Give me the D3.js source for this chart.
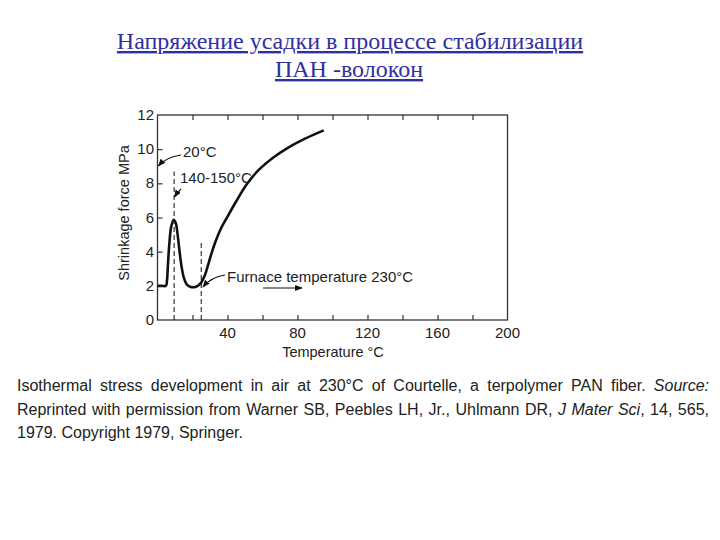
<!DOCTYPE html>
<html>
<head>
<meta charset="utf-8">
<script src="https://cdn.jsdelivr.net/npm/d3@7"></script>
<style>
  body { margin: 0; background: #fff; }
  #wrap { position: relative; width: 720px; height: 540px; }
  #caption {
    position: absolute; left: 17px; top: 374px; width: 692px;
    font-family: "Liberation Sans", Arial, sans-serif; font-size: 16px;
    line-height: 23.5px; color: #222; text-align: justify; text-align-last: left;
  }
</style>
</head>
<body>
<div id="wrap">
  <svg id="chart" width="720" height="540"></svg>
  <div id="caption">Isothermal stress development in air at 230&deg;C of Courtelle, a terpolymer PAN fiber. <i>Source:</i> Reprinted with permission from Warner SB, Peebles LH, Jr., Uhlmann DR, <i>J Mater Sci</i>, 14, 565, 1979. Copyright 1979, Springer.</div>
</div>
<script>
// curve: temperature (°C), shrinkage force (MPa)
var temps =  [0, 2.5, 4.8, 5.4, 6.0, 6.8, 7.8, 9.3, 10.5, 11.5, 12.5, 13.5, 15, 17, 19, 21, 23, 25, 27, 29, 31, 33, 36, 40, 45, 51, 58, 66, 74, 84, 95];
var forces = [2, 2, 2, 2.3, 3.3, 4.5, 5.45, 5.87, 5.65, 5.0, 4.1, 3.3, 2.5, 2.05, 1.93, 1.92, 2.0, 2.2, 2.6, 3.25, 3.95, 4.55, 5.3, 6.05, 6.95, 7.95, 8.8, 9.5, 10.05, 10.6, 11.1];
var xTicks = [40, 80, 120, 160, 200];
var yTicks = [0, 2, 4, 6, 8, 10, 12];
var dashX = [9.5, 25];
var dashTop = [8.7, 4.6];

var svg = d3.select("#chart");
var x = d3.scaleLinear().domain([0, 200]).range([157.5, 507.5]);
var y = d3.scaleLinear().domain([0, 12]).range([320, 115]);
var font = "'Liberation Sans', Arial, sans-serif";

// title
var title = svg.append("g")
    .attr("font-family", "'Liberation Serif', 'Times New Roman', serif")
    .attr("font-size", 24)
    .attr("fill", "#30309f")
    .attr("text-anchor", "middle")
    .attr("text-decoration", "underline");
title.append("text").attr("x", 350).attr("y", 49).text("Напряжение усадки в процессе стабилизации");
title.append("text").attr("x", 349).attr("y", 77).text("ПАН -волокон");

// frame
svg.append("rect")
    .attr("x", x(0)).attr("y", y(12))
    .attr("width", x(200) - x(0)).attr("height", y(0) - y(12))
    .attr("fill", "none").attr("stroke", "#333").attr("stroke-width", 1.3);

// axes with inward ticks
var xAxis = svg.append("g").attr("transform", "translate(0," + y(0) + ")")
    .call(d3.axisBottom(x).tickValues(d3.range(20, 200, 20)).tickSizeInner(-5).tickSizeOuter(0).tickFormat(""));
var xTop = svg.append("g").attr("transform", "translate(0," + y(12) + ")")
    .call(d3.axisTop(x).tickValues(d3.range(20, 200, 20)).tickSizeInner(-5).tickSizeOuter(0).tickFormat(""));
var yAxis = svg.append("g").attr("transform", "translate(" + x(0) + ",0)")
    .call(d3.axisLeft(y).tickValues(yTicks.slice(1, -1)).tickSizeInner(-5).tickSizeOuter(0).tickFormat(""));
[xAxis, xTop, yAxis].forEach(function(g) {
    g.select(".domain").remove();
    g.selectAll("line").attr("stroke", "#333").attr("stroke-width", 1.2);
});

svg.append("g").selectAll("text").data(xTicks).enter().append("text")
    .attr("x", function(d) { return x(d); }).attr("y", 338)
    .attr("text-anchor", "middle").attr("font-family", font).attr("font-size", 15).attr("fill", "#222")
    .text(function(d) { return d; });
svg.append("g").selectAll("text").data(yTicks).enter().append("text")
    .attr("x", 154).attr("y", function(d) { return y(d) + 5; })
    .attr("text-anchor", "end").attr("font-family", font).attr("font-size", 15).attr("fill", "#222")
    .text(function(d) { return d; });

svg.append("text").attr("x", 333).attr("y", 357).attr("text-anchor", "middle")
    .attr("font-family", font).attr("font-size", 14.5).attr("fill", "#222").text("Temperature °C");
svg.append("text").attr("transform", "translate(129,213) rotate(-90)").attr("text-anchor", "middle")
    .attr("font-family", font).attr("font-size", 14.5).attr("fill", "#222").text("Shrinkage force MPa");

// dashed guide lines
svg.append("g").selectAll("line").data(dashX).enter().append("line")
    .attr("x1", function(d) { return x(d); }).attr("x2", function(d) { return x(d); })
    .attr("y1", y(0)).attr("y2", function(d, i) { return y(dashTop[i]); })
    .attr("stroke", "#222").attr("stroke-width", 1.1).attr("stroke-dasharray", "5,3");

// curve
var pts = temps.map(function(t, i) { return [t, forces[i]]; });
svg.append("path").datum(pts)
    .attr("d", d3.line().x(function(d) { return x(d[0]); }).y(function(d) { return y(d[1]); }).curve(d3.curveCatmullRom.alpha(0.5)))
    .attr("fill", "none").attr("stroke", "#111").attr("stroke-width", 2.6).attr("stroke-linejoin", "round");

// annotations
svg.append("defs").append("marker")
    .attr("id", "ah").attr("viewBox", "0 0 10 10").attr("refX", 9).attr("refY", 5)
    .attr("markerWidth", 7).attr("markerHeight", 7).attr("orient", "auto")
    .append("path").attr("d", "M0,1 L10,5 L0,9 Z").attr("fill", "#111");

function arrow(d) {
    svg.append("path").attr("d", d).attr("fill", "none").attr("stroke", "#111")
        .attr("stroke-width", 1.1).attr("marker-end", "url(#ah)");
}
arrow("M181,155 Q166,157 158.5,166");
arrow("M181,189 Q177,193 174.5,197");
arrow("M225,275 Q211,277 203,287");
arrow("M263,288 L302,288");

var notes = [
    { t: "20°C", x: 183, y: 157 },
    { t: "140-150°C", x: 180, y: 183 },
    { t: "Furnace temperature 230°C", x: 227, y: 282 }
];
svg.append("g").selectAll("text").data(notes).enter().append("text")
    .attr("x", function(d) { return d.x; }).attr("y", function(d) { return d.y; })
    .attr("font-family", font).attr("font-size", 15).attr("fill", "#222")
    .text(function(d) { return d.t; });
</script>
</body>
</html>
